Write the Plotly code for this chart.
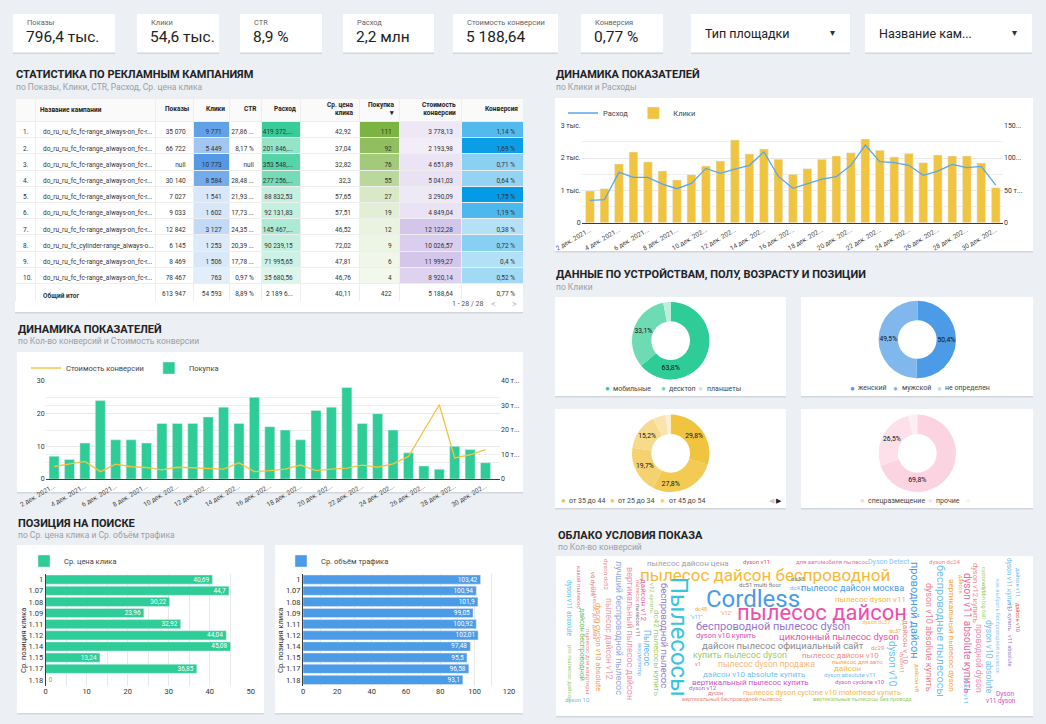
import plotly.graph_objects as go

W, H = 1046, 724
FONT = "Roboto"
NB = "\u00a0"

# ======================= DATA =======================
kpi_labels = ["Показы", "Клики", "CTR", "Расход", "Стоимость конверсии", "Конверсия"]
kpi_values = ["796,4 тыс.", "54,6 тыс.", "8,9 %", "2,2 млн", "5 188,64", "0,77 %"]
filter_labels = ["Тип площадки", "Название кам..."]

tbl_header = ["", "Название кампании", "Показы", "Клики", "CTR", "Расход",
              "Ср. цена<br>клика", "Покупка<br>▾", "Стоимость<br>конверсии", "Конверсия"]
campaigns = ["do_ru_ru_fc_fc-range_always-on_fc-r...", "do_ru_ru_fc_fc-range_always-on_fc-r...",
             "do_ru_ru_fc_fc-range_always-on_fc-r...", "do_ru_ru_fc_fc-range_always-on_fc-r...",
             "do_ru_ru_fc_fc-range_always-on_fc-r...", "do_ru_ru_fc_fc-range_always-on_fc-r...",
             "do_ru_ru_fc_fc-range_always-on_fc-r...", "do_ru_ru_fc_cylinder-range_always-o...",
             "do_ru_ru_fc_fc-range_always-on_fc-r...", "do_ru_ru_fc_fc-range_always-on_fc-r..."]
impressions_txt = ["35 070", "66 722", "null", "30 140", "7 027", "9 033", "12 842", "6 145", "8 469", "78 467"]
clicks_tbl = [9771, 5449, 10773, 8584, 1541, 1602, 3127, 1253, 1506, 763]
ctr_txt = ["27,86 ...", "8,17 %", "null", "28,48 ...", "21,93 ...", "17,73 ...", "24,35 ...", "20,39 ...", "17,78 ...", "0,97 %"]
spend_tbl = [419372, 201846, 353548, 277256, 88832.53, 92131.83, 145467, 90239.15, 71995.65, 35680.56]
spend_txt = ["419 372,...", "201 846,...", "353 548,...", "277 256,...", "88 832,53", "92 131,83",
             "145 467,...", "90 239,15", "71 995,65", "35 680,56"]
cpc_txt = ["42,92", "37,04", "32,82", "32,3", "57,65", "57,51", "46,52", "72,02", "47,81", "46,76"]
purchases_tbl = [111, 92, 76, 55, 27, 19, 12, 9, 6, 4]
cost_conv_tbl = [3778.13, 2193.98, 4651.89, 5041.03, 3290.09, 4849.04, 12122.28, 10026.57, 11999.27, 8920.14]
conv_rate_tbl = [1.14, 1.69, 0.71, 0.64, 1.75, 1.19, 0.38, 0.72, 0.4, 0.52]
total_row = ["", "<b>Общий итог</b>", "613 947", "54 593", "8,89 %", "2 189 6...", "40,11", "422", "5 188,64", "0,77 %"]

day_numbers = [2, 3, 4, 5, 6, 7, 8, 9, 10, 11, 12, 13, 14, 15, 16, 17, 18, 19, 20, 21, 22, 23, 24, 25, 26, 27, 28, 29, 30]
clicks_daily = [980, 1050, 1815, 2185, 1876, 1598, 1320, 1485, 1753, 1907, 2557, 2124, 2278, 1959, 1495,
                1670, 1959, 2062, 2165, 2588, 2237, 2031, 2144, 1856, 2093, 2062, 2062, 1845, 1082]
spend_daily = [34500, 35600, 77800, 70100, 70100, 59800, 52600, 60800, 84000, 76300, 83000, 88700, 109300, 71600,
               53100, 59800, 67500, 71100, 88700, 120100, 94300, 92800, 88700, 73200, 79900, 90200, 85100, 87100, 58200]
purchases_daily = [7, 6, 11, 24, 12, 12, 11, 17, 17, 17, 19, 22, 17, 25, 16, 15, 12, 21, 22, 28, 17, 20, 15, 8, 4, 3, 10, 9, 5]
cost_conv_daily = [5100, 6200, 7200, 3000, 6100, 5000, 4700, 3700, 4800, 4600, 4400, 4000, 6600, 3000, 3400, 4000,
                   5700, 3400, 4000, 4400, 5700, 4800, 6200, 9200, 19800, 30300, 8600, 9900, 12000]

device_labels = ["мобильные", "десктоп", "планшеты"]
device_share = [63.8, 33.1, 3.1]
gender_labels = ["женский", "мужской", "не определен"]
gender_share = [50.4, 49.5, 0.1]
age_labels = ["от 35 до 44", "от 25 до 34", "от 45 до 54", "от 18 до 24", "старше 55", "младше 18"]
age_share = [29.8, 27.8, 19.7, 15.2, 5.3, 2.2]
place_labels = ["спецразмещение", "прочие", ""]
place_share = [69.8, 26.5, 3.7]

positions = ["1", "1.07", "1.08", "1.09", "1.11", "1.12", "1.14", "1.15", "1.17", "1.18"]
avg_cpc = [40.69, 44.7, 30.22, 23.96, 32.92, 44.04, 45.08, 13.24, 36.85, 0]
avg_traffic = [103.42, 100.94, 101.9, 99.05, 100.92, 102.01, 97.48, 95.5, 96.58, 93.1]

cloud_words = [
    "Cordless", "пылесос дайсон беспроводной", "пылесос дайсон", "пылесос дайсон цена", "dyson v11",
    "для автомобиля пылесос", "Dyson Detect", "dyson dc24", "dc51 multi floor", "dc33", "dc42",
    "пылесос дайсон москва", "пылесос dyson v11", "dc48", '"v11"', '"v12"', "беспроводной пылесос dyson",
    "dyson dc37", "dc37", "dyson v10 купить", "циклонный пылесос dyson", "дайсон пылесос официальный сайт",
    "dc29", "купить пылесос dyson", "пылесос дайсон v10", "пылесос dyson продажа", "пылесос для авто", "v1",
    "дайсон", "дайсон v10 absolute купить", "dyson absolute v11", "вертикальный пылесос купить",
    "dyson cyclone v10", "dyson v12", "дусон", "пылесос dyson cyclone v10 motorhead купить",
    "вертикальный беспроводной пылесос", "вертикальные пылесосы без провода", "dyson 10", "Dyson", "v11 dyson",
    "dyson v11 absolute", "pro пылесос дайсон", "какой пылесос", "дайсон беспроводной", "пылесос для квартиры",
    "v6 dyson", "пылесос для дома", "dyson cyclon v10 absolute", "dyson dc52", "пылесос дайсон v12",
    "лучший беспроводной пылесос", "вертикальный пылесос дайсон", "пылесос", "пылесос v11", "дайсон v12",
    "Пылесос", "аккумулятор", "v12 купить", "dc42 пылесосы купить", "беспроводной пылесос", "Пылесосы",
    "проводной дайсон", "dyson v10", "дайсон v 10", "dyson11", "дайсон v8", "dyson v10 absolute купить",
    "беспроводные пылесосы", "вертикальный пылесос dyson", "дайсон ", "dyson v11 absolute купить",
    "dyson v12 купить", "проводной dyson", "Dyson v11", "cyclone v11", "dyson big ball", "dyson v10 absolute",
    "как выбрать беспроводной пылесос", "dyson v11 купить", "v11 купить", "v11 absolute", "дайсон v11", "дайсон v10"]
cloud_conv = [
    38, 24, 34, 6, 2, 2, 4, 2, 2, 2, 2, 8, 6, 1, 1, 1, 12, 1, 1, 5, 9, 9, 2, 8, 6, 7, 2, 1, 6, 6, 2, 6, 2, 2, 1, 5,
    1, 1, 2, 3, 3,
    3, 2, 2, 4, 2, 2, 2, 5, 2, 7, 8, 8, 1, 1, 6, 7, 1, 2, 6, 9, 38, 12, 10, 6, 1, 2, 8, 12, 6, 1, 10, 5, 7, 2, 1,
    1, 7, 1, 3, 1, 1, 1, 1]

# ======================= LAYOUT HELPERS (positions / styles) =======================
def fx(x):
    return x / W


def fy(y):
    return 1 - y / H


anns = []
shapes = []


def A(text, x, y, size, color, xa="left", ya="middle", angle=0, bold=False, align="left"):
    anns.append(dict(text=("<b>%s</b>" % text) if bold else text, x=fx(x), y=fy(y), xref="paper", yref="paper",
                     xanchor=xa, yanchor=ya, showarrow=False, textangle=angle, borderpad=0, align=align,
                     font=dict(family=FONT, size=size, color=color)))


def card(x0, y0, x1, y1):
    shapes.append(dict(type="rect", xref="paper", yref="paper", x0=fx(x0), x1=fx(x1), y0=fy(y1 + 1.5), y1=fy(y0 + 0.5),
                       fillcolor="#d3d6db", line=dict(width=0), layer="below"))
    shapes.append(dict(type="rect", xref="paper", yref="paper", x0=fx(x0), x1=fx(x1), y0=fy(y1), y1=fy(y0),
                       fillcolor="#ffffff", line=dict(width=0), layer="below"))


def mix(hexc, t):
    r, g, b = int(hexc[1:3], 16), int(hexc[3:5], 16), int(hexc[5:7], 16)
    return "rgb(%d,%d,%d)" % (round(255 + (r - 255) * t), round(255 + (g - 255) * t), round(255 + (b - 255) * t))


def fmt_num(v):
    return ("%g" % v).replace(".", ",")


def nb(s):
    return s.replace(" ", NB)


fig = go.Figure()

# ---------- KPI cards ----------
kpi_boxes = [(13, 115), (137, 219), (240, 322), (343, 434), (453, 558), (581, 663)]
for (x0, x1), lab, val in zip(kpi_boxes, kpi_labels, kpi_values):
    card(x0, 14, x1, 52.5)
    A(lab, x0 + 13, 22.5, 7.5, "#5f6368")
    A(val, x0 + 12, 37, 15.5, "#202124")
for (x0, x1), lab in zip([(691, 850), (865, 1032)], filter_labels):
    card(x0, 14, x1, 52.5)
    A(lab, x0 + 13, 33.5, 12.5, "#202124")
    A("▾", x1 - 18, 33, 10, "#333333", xa="center")

# ---------- section titles ----------
TC, SC = "#202124", "#9aa0a6"
A("СТАТИСТИКА ПО РЕКЛАМНЫМ КАМПАНИЯМ", 15, 75, 11, TC, bold=True)
A("по Показы, Клики, CTR, Расход, Ср. цена клика", 15, 87.5, 8.5, SC)
A("ДИНАМИКА ПОКАЗАТЕЛЕЙ", 555, 75, 11, TC, bold=True)
A("по Клики и Расходы", 555, 87.5, 8.5, SC)
A("ДИНАМИКА ПОКАЗАТЕЛЕЙ", 17, 329, 11, TC, bold=True)
A("по Кол-во конверсий и Стоимость конверсии", 17, 341, 8.5, SC)
A("ДАННЫЕ ПО УСТРОЙСТВАМ, ПОЛУ, ВОЗРАСТУ И ПОЗИЦИИ", 555, 275, 11, TC, bold=True)
A("по Клики", 555, 287, 8.5, SC)
A("ПОЗИЦИЯ НА ПОИСКЕ", 17, 523, 11, TC, bold=True)
A("по Ср. цена клика и Ср. объём трафика", 17, 535, 8.5, SC)
A("ОБЛАКО УСЛОВИЯ ПОКАЗА", 557, 535, 11, TC, bold=True)
A("по Кол-во конверсий", 557, 547, 8.5, SC)

# ---------- cards ----------
card(15, 98, 523, 312)
card(555, 98, 1033, 251)
card(17, 352, 523, 492)
card(555, 297, 786, 396)
card(801, 297, 1033, 396)
card(555, 409, 786, 508)
card(801, 409, 1033, 508)
card(17, 545, 264, 713)
card(275, 545, 523, 713)
card(556, 556, 1033, 716)

# ---------- table ----------
TBL_X0, TBL_X1 = 15, 523
col_w = [20, 120, 38.6, 36.1, 32.1, 38.9, 58.3, 40.7, 61.3, 62]
n = len(campaigns)
col_idx = ["%d." % (i + 1) for i in range(n)] + [""]
col_vals = [
    col_idx,
    campaigns + [total_row[1]],
    impressions_txt + [total_row[2]],
    ["{:,}".format(v).replace(",", " ") for v in clicks_tbl] + [total_row[3]],
    ctr_txt + [total_row[4]],
    spend_txt + [total_row[5]],
    cpc_txt + [total_row[6]],
    [str(v) for v in purchases_tbl] + [total_row[7]],
    ["{:,.2f}".format(v).replace(",", " ").replace(".", ",") for v in cost_conv_tbl] + [total_row[8]],
    [fmt_num(v) + " %" for v in conv_rate_tbl] + [total_row[9]],
]
col_vals = [[nb(s) for s in col] for col in col_vals]
WHITE = "#ffffff"
mc, ms, mp, mk, mr = max(clicks_tbl), max(spend_tbl), max(purchases_tbl), max(cost_conv_tbl), max(conv_rate_tbl)
fills = [
    [WHITE] * (n + 1),
    [WHITE] * (n + 1),
    [WHITE] * (n + 1),
    [mix("#5598e5", 0.1 + 0.9 * v / mc) for v in clicks_tbl] + [WHITE],
    [WHITE] * (n + 1),
    [mix("#38cd98", 0.1 + 0.9 * v / ms) for v in spend_tbl] + [WHITE],
    [WHITE] * (n + 1),
    [mix("#7cb342", 0.06 + 0.94 * v / mp) for v in purchases_tbl] + [WHITE],
    [mix("#d3c6ea", 0.15 + 0.85 * v / mk) for v in cost_conv_tbl] + [WHITE],
    [mix("#039be5", 0.1 + 0.9 * v / mr) for v in conv_rate_tbl] + [WHITE],
]
fig.add_trace(go.Table(
    domain=dict(x=[fx(TBL_X0), fx(TBL_X1)], y=[fy(302), fy(98)]),
    columnwidth=col_w,
    header=dict(values=[""] * len(col_w), fill_color="#fafafa", line=dict(color="#eeeeee", width=1),
                font=dict(family=FONT, size=6.5, color="#202124"), height=23.5),
    cells=dict(values=col_vals, align=["left", "left"] + ["right"] * 8, fill_color=fills,
               line=dict(color="#eeeeee", width=1), font=dict(family=FONT, size=6.5, color="#333333"),
               height=16.2),
))
# header labels (placed over the table header row)
edges = [TBL_X0]
for wcol in col_w:
    edges.append(edges[-1] + wcol)
for i, h in enumerate(tbl_header):
    if not h:
        continue
    if i == 1:
        A(h, edges[1] + 4, 110, 6.5, "#202124", xa="left", bold=True)
    else:
        A(h, edges[i + 1] - 4, 109.5, 6.5, "#202124", xa="right", bold=True, align="right")
A("1 - 28 / 28", 468, 304, 7, "#555555", xa="center")
A("&lt;", 493, 304, 9, "#bbbbbb", xa="center")
A("&gt;", 514, 304, 9, "#bbbbbb", xa="center")

# ---------- daily charts ----------
dates = ["%d дек. 2021 г." % d for d in day_numbers]
tick_vals = dates[::2]
tick_text = [("%d дек. 2021..." % d) if d < 10 else ("%d дек. 202..." % d) for d in day_numbers[::2]]

fig.add_trace(go.Scatter(x=dates, y=spend_daily, name="Расход", mode="lines", line=dict(color="#5aa7e8", width=1.3),
                         xaxis="x", yaxis="y2", legend="legend"))
fig.add_trace(go.Bar(x=dates, y=clicks_daily, name="Клики", marker=dict(color="#f0c43f"), width=0.6,
                     xaxis="x", yaxis="y", legend="legend"))

fig.add_trace(go.Scatter(x=dates, y=cost_conv_daily, name="Стоимость конверсии", mode="lines",
                         line=dict(color="#f5c243", width=1.3), xaxis="x2", yaxis="y4", legend="legend2"))
fig.add_trace(go.Bar(x=dates, y=purchases_daily, name="Покупка", marker=dict(color="#2ecc96"), width=0.65,
                     xaxis="x2", yaxis="y3", legend="legend2"))

# ---------- position charts ----------
cpc_pos = ["outside" if v == 0 else "inside" for v in avg_cpc]
fig.add_trace(go.Bar(x=avg_cpc, y=positions, orientation="h", name="Ср. цена клика", marker=dict(color="#2ecc96"),
                     width=0.82, text=[fmt_num(v) for v in avg_cpc], textposition=cpc_pos, insidetextanchor="end",
                     textfont=dict(family=FONT, size=6.5), insidetextfont=dict(color="white", size=6.5),
                     outsidetextfont=dict(color="#2ecc96", size=6.5), constraintext="none", cliponaxis=False,
                     xaxis="x3", yaxis="y5", legend="legend3"))
fig.add_trace(go.Bar(x=avg_traffic, y=positions, orientation="h", name="Ср. объём трафика",
                     marker=dict(color="#4b9be6"), width=0.82, text=[fmt_num(v) for v in avg_traffic],
                     textposition="inside", insidetextanchor="end", insidetextfont=dict(color="white", size=6.5),
                     textfont=dict(family=FONT, size=6.5), constraintext="none", cliponaxis=False,
                     xaxis="x4", yaxis="y6", legend="legend4"))

# ---------- donuts ----------
def donut(labels, shares, colors, cx, cy, r=38.7):
    fig.add_trace(go.Pie(
        labels=["%d_%s" % (i, l) for i, l in enumerate(labels)], values=shares, sort=False, direction="clockwise",
        hole=0.5, marker=dict(colors=colors, line=dict(width=0)),
        text=[("%.1f%%" % s).replace(".", ",") if s >= 10 else "" for s in shares], textinfo="text",
        textposition="inside", insidetextorientation="horizontal",
        textfont=dict(family=FONT, size=7, color="#111111"), showlegend=False, hoverinfo="skip",
        domain=dict(x=[fx(cx - r), fx(cx + r)], y=[fy(cy + r), fy(cy - r)])))


def donut_legend(labels, colors, xs, y):
    for lab, col, x in zip(labels, colors, xs):
        A("●", x, y, 8, col, xa="center")
        A(lab, x + 5, y, 7, "#444444")


dev_colors = ["#2ecc96", "#6ddbb4", "#b9efdb"]
gen_colors = ["#4b9be6", "#80b8ee", "#b9d8f6"]
age_colors = ["#f0c43f", "#f3ca53", "#f5d270", "#f7da8c", "#f9e4b0", "#fcefd2"]
plc_colors = ["#fcd3e0", "#fde0ea", "#feeef4"]
donut(device_labels, device_share, dev_colors, 670.7, 340.7)
donut(gender_labels, gender_share, gen_colors, 917.3, 339.5)
donut(age_labels, age_share, age_colors, 670.7, 453.3)
donut(place_labels, place_share, plc_colors, 917.3, 453.3)
donut_legend(device_labels, dev_colors, [607.3, 663.3, 700.7], 388.7)
donut_legend(gender_labels, gen_colors, [852.3, 895.7, 939], 388)
donut_legend(age_labels[:3], age_colors[:3], [563.3, 612.3, 662.7], 500.7)
donut_legend(place_labels, plc_colors, [862.3, 930, 968.3], 500.7)
A("◀", 772, 500.5, 7, "#cccccc", xa="center")
A("▶", 779, 500.5, 7, "#222222", xa="center")

# ---------- word cloud ----------
cloud_place = [
    (753, 599, 0, "#4a9be8"), (765, 574.5, 0, "#f6b93b"), (822, 612, 0, "#ee4fab"), (688, 563, 0, "#9e9e9e"),
    (756, 561.5, 0, "#ec407a"), (832, 561.5, 0, "#e57399"), (889, 561.5, 0, "#7ec8f2"), (944, 561.5, 0, "#ef7f8f"),
    (760, 584, 0, "#757575"), (797, 578, 0, "#757575"), (797, 587.5, 0, "#64b5f6"), (852, 588, 0, "#4a9be8"),
    (870, 599, 0, "#f6b93b"), (701, 609, 0, "#f6a23b"), (696, 617, 0, "#64b5f6"), (726, 613, 0, "#f6a23b"),
    (773, 626, 0, "#9575cd"), (876, 622, 0, "#f6b93b"), (895, 630.5, 0, "#f6a23b"), (726, 635, 0, "#d14fc4"),
    (839, 636, 0, "#e84fa8"), (783, 645, 0, "#8a8a8a"), (877, 647, 0, "#ef8a80"), (740, 655, 0, "#9ccc65"),
    (840, 655, 0, "#ef8a8a"), (766, 664, 0, "#f8b878"), (857, 661, 0, "#f6a23b"), (698, 664, 0, "#e57373"),
    (847, 668, 0, "#f6b93b"), (754, 674, 0, "#6ec1ef"), (850, 674, 0, "#6ec1ef"), (750, 682, 0, "#d14fc4"),
    (860, 681, 0, "#d14fc4"), (703, 687, 0, "#9575cd"), (715, 693, 0, "#e57373"), (822, 692, 0, "#f6b93b"),
    (732, 699, 0, "#ef8a80"), (862, 699, 0, "#9ccc65"), (577, 699, 0, "#6ec1ef"), (1005, 693.5, 0, "#d14fc4"),
    (1001, 701, 0, "#d14fc4"),
    (569, 608, 90, "#4fc3f7"), (571, 673, 90, "#9ccc65"), (580, 587, 90, "#e57399"), (582, 644, 90, "#66bb6a"),
    (589, 662, 90, "#ef8a80"), (594, 584, 90, "#e57373"), (596, 613, 90, "#f48fb1"), (599, 647, 90, "#f5a142"),
    (607, 574, 90, "#ef8a80"), (609, 639, 90, "#f29ca6"), (619, 628, 90, "#8fa8e8"), (630, 633, 90, "#f48fb1"),
    (638, 591, 90, "#ef8a80"), (638, 620, 90, "#757575"), (644, 600, 90, "#e56aa8"), (647, 648, 90, "#64b5f6"),
    (640, 659, 90, "#64b5f6"), (653, 598, 90, "#9ccc65"), (657, 653, 90, "#9ccc65"), (665, 635, 90, "#9575cd"),
    (679, 637, 90, "#36c5da"), (915, 610, 90, "#4a9be8"), (893, 664, 90, "#6ec1ef"), (906, 642, 90, "#ef8a8a"),
    (902, 662, 90, "#ef8a80"), (918, 678, 90, "#f6a23b"), (929, 637, 90, "#ef7f8f"), (941, 631, 90, "#6ec1ef"),
    (952, 635, 90, "#f5a142"), (961, 585, 90, "#f6a23b"), (968, 633, 90, "#ec6aa0"), (976, 593, 90, "#ef8a8a"),
    (979, 658, 90, "#f48fb1"), (967, 690, 90, "#6ec1ef"), (984, 581, 90, "#9ccc65"), (984, 602, 90, "#9ccc65"),
    (989, 657, 90, "#6ec1ef"), (998, 626, 90, "#90caf9"), (1009, 584, 90, "#6ec1ef"), (1010, 617, 90, "#9575cd"),
    (1010, 650, 90, "#9575cd"), (1018, 582, 90, "#64b5f6"), (1018, 617, 90, "#f4511e")]
for word, w, (x, y, ang, col) in zip(cloud_words, cloud_conv, cloud_place):
    A(word.strip(), x, y, 5 + 0.5 * w, col, xa="center", ya="middle", angle=ang)

# ---------- axes ----------
TF = dict(family=FONT, size=7, color="#333333")
GRID = "#e8e8e8"
AXL = "#3c3c3c"
layout_axes = dict(
    xaxis=dict(domain=[fx(581.7), fx(1003)], anchor="y", type="category", range=[-0.57, 28.5],
               tickmode="array", tickvals=tick_vals, ticktext=tick_text, tickangle=-30,
               tickfont=dict(family=FONT, size=6.5, color="#444"), showline=True, linecolor=AXL, showgrid=False,
               ticks="", automargin=False),
    yaxis=dict(domain=[fy(222.7), fy(125.7)], anchor="x", range=[0, 3000], tickmode="array",
               tickvals=[0, 1000, 2000, 3000], ticktext=["0", "1 тыс.", "2 тыс.", "3 тыс."], tickfont=TF,
               gridcolor=GRID, zeroline=False, automargin=False,
               minor=dict(tickvals=[500, 1500, 2500], showgrid=True, gridcolor="#efefef")),
    yaxis2=dict(overlaying="y", side="right", anchor="x", range=[0, 150000], tickmode="array",
                tickvals=[0, 50000, 100000, 150000], ticktext=["0", "50 т...", "100...", "150..."], tickfont=TF,
                showgrid=False, zeroline=False, automargin=False),
    xaxis2=dict(domain=[fx(45.6), fx(500)], anchor="y3", type="category", range=[-0.55, 28.94],
                tickmode="array", tickvals=tick_vals, ticktext=tick_text, tickangle=-30,
                tickfont=dict(family=FONT, size=6.5, color="#444"), showline=True, linecolor=AXL, showgrid=False,
                ticks="", automargin=False),
    yaxis3=dict(domain=[fy(479), fy(381)], anchor="x2", range=[0, 30], tickmode="array", tickvals=[0, 10, 20, 30],
                tickfont=TF, gridcolor=GRID, zeroline=False, automargin=False,
                minor=dict(tickvals=[5, 15, 25], showgrid=True, gridcolor="#efefef")),
    yaxis4=dict(overlaying="y3", side="right", anchor="x2", range=[0, 40000], tickmode="array",
                tickvals=[0, 10000, 20000, 30000, 40000], ticktext=["0", "10 т...", "20 т...", "30 т...", "40 т..."],
                tickfont=TF, showgrid=True, gridcolor="#efefef", zeroline=False, automargin=False),
    xaxis3=dict(domain=[fx(45.6), fx(250.7)], anchor="y5", range=[0, 50], tickmode="array",
                tickvals=[0, 10, 20, 30, 40, 50], tickfont=dict(family=FONT, size=7.5, color="#333"),
                gridcolor=GRID, zeroline=False, automargin=False,
                minor=dict(tickvals=[5, 15, 25, 35, 45], showgrid=True, gridcolor=GRID)),
    yaxis5=dict(domain=[fy(685.5), fy(574)], anchor="x3", type="category", autorange="reversed",
                tickfont=dict(family=FONT, size=7.5, color="#333"), showline=True, linecolor=AXL, showgrid=False,
                ticks="", automargin=False),
    xaxis4=dict(domain=[fx(303), fx(509)], anchor="y6", range=[0, 120], tickmode="array",
                tickvals=[0, 20, 40, 60, 80, 100, 120], tickfont=dict(family=FONT, size=7.5, color="#333"),
                gridcolor=GRID, zeroline=False, automargin=False,
                minor=dict(tickvals=[10, 30, 50, 70, 90, 110], showgrid=True, gridcolor=GRID)),
    yaxis6=dict(domain=[fy(685.5), fy(574)], anchor="x4", type="category", autorange="reversed",
                tickfont=dict(family=FONT, size=7.5, color="#333"), showline=True, linecolor=AXL, showgrid=False,
                ticks="", automargin=False),
)
A("Ср. позиция клика", 23, 641, 7.5, "#333333", xa="center", angle=-90)
A("Ср. позиция клика", 280, 641, 7.5, "#333333", xa="center", angle=-90)

LEG = dict(orientation="h", xanchor="left", yanchor="middle", bgcolor="rgba(0,0,0,0)",
           font=dict(family=FONT, size=7.5, color="#444444"), itemwidth=30)
fig.update_layout(
    width=W, height=H, margin=dict(l=0, r=0, t=0, b=0, pad=0, autoexpand=False), autosize=False,
    paper_bgcolor="#eceff3", plot_bgcolor="rgba(0,0,0,0)",
    font=dict(family=FONT, size=8, color="#333333"),
    showlegend=True, hovermode=False, barmode="overlay",
    legend=dict(LEG, x=fx(563), y=fy(113)),
    legend2=dict(LEG, x=fx(26), y=fy(368)),
    legend3=dict(LEG, x=fx(24), y=fy(561)),
    legend4=dict(LEG, x=fx(281), y=fy(561)),
    annotations=anns, shapes=shapes,
    **layout_axes,
)

fig.write_html("out.html")
